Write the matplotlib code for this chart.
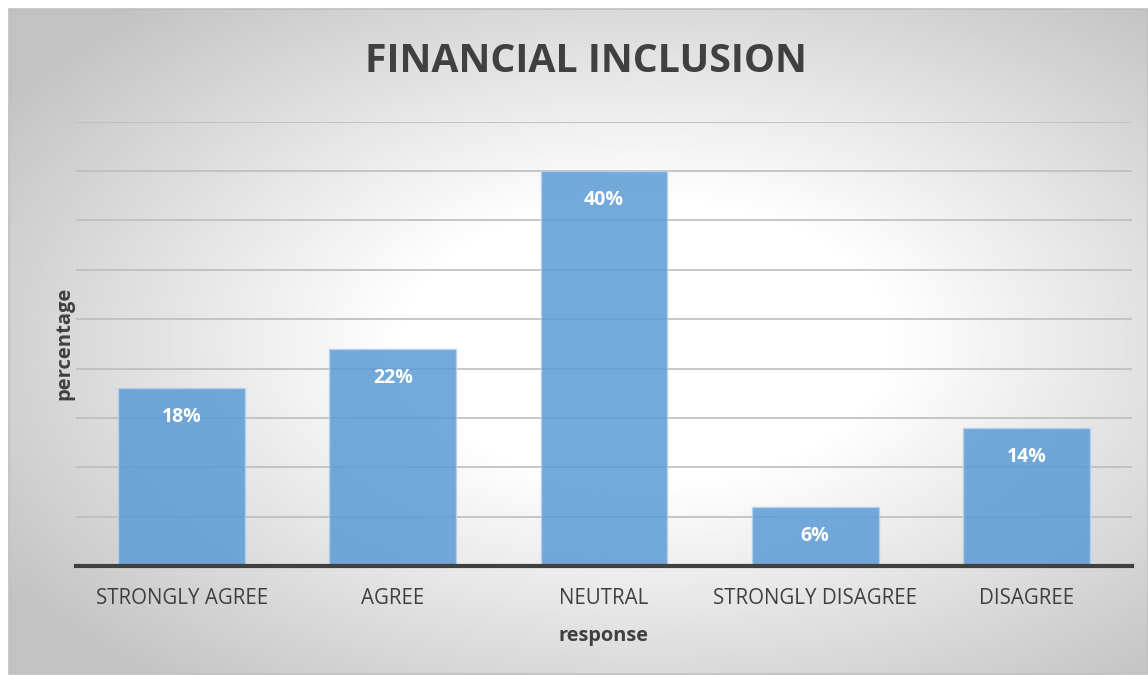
import numpy as np
import matplotlib
matplotlib.use("Agg")
import matplotlib.pyplot as plt
from matplotlib.patches import Rectangle

plt.rcParams['font.family'] = ['Open Sans', 'DejaVu Sans']

# Survey responses (share of respondents)
categories = ["STRONGLY AGREE", "AGREE", "NEUTRAL", "STRONGLY DISAGREE", "DISAGREE"]
shares = [0.18, 0.22, 0.40, 0.06, 0.14]
labels = ["18%", "22%", "40%", "6%", "14%"]

W, H = 1148, 675
fig = plt.figure(figsize=(W / 100, H / 100), dpi=100)
fig.patch.set_facecolor("white")

# Radial grey-to-white fill behind the chart
x0, y0, x1, y1 = 9, 1, 1148, 666  # chart box in pixels from the bottom-left
bg = fig.add_axes([x0 / W, y0 / H, (x1 - x0) / W, (y1 - y0) / H])
gx, gy = np.meshgrid(np.linspace(0, 1, 400), np.linspace(0, 1, 240))
r = np.sqrt(((gx - 0.56) / 0.5) ** 2 + ((gy - 0.5) / 0.5) ** 2)
t = np.clip((r - 0.42) / 0.95, 0, 1)
shade = 1 - 0.24 * t
bg.imshow(shade, cmap="gray", vmin=0, vmax=1, aspect="auto", origin="lower",
          extent=[0, 1, 0, 1], interpolation="bilinear")
bg.set_axis_off()
bg.set_zorder(0)
fig.add_artist(Rectangle((x0 / W, y0 / H), (x1 - x0) / W, (y1 - y0) / H,
                         transform=fig.transFigure, fill=False,
                         edgecolor="#BFBFBF", linewidth=1.2))

ax = fig.add_axes([76 / W, 109 / H, (1132 - 76) / W, (566 - 121.7) / H])
ax.set_zorder(1)
ax.patch.set_visible(False)

x = np.arange(len(categories))
bars = ax.bar(x, shares, width=0.6, color="#5B9BD5", alpha=0.85,
              edgecolor="#B4D2EE", linewidth=1, zorder=2)

for rect, lab in zip(bars, labels):
    ax.annotate(lab, (rect.get_x() + rect.get_width() / 2, rect.get_height()),
                xytext=(0, -29), textcoords="offset pixels",
                ha="center", va="center", color="white", fontsize=14,
                fontweight="bold", zorder=3)

ax.set_xlim(-0.5, len(categories) - 0.5)
ax.set_ylim(0, 0.45)
ax.set_yticks(np.arange(0.05, 0.451, 0.05))
ax.yaxis.grid(True, color="#BDBDBD", linewidth=1.2, zorder=1)
ax.tick_params(axis="y", length=0, labelleft=False)
ax.tick_params(axis="x", length=0, pad=16, labelsize=14.8, labelcolor="#404040")
ax.set_xticks(x)
ax.set_xticklabels(categories)
for s in ["top", "right", "left"]:
    ax.spines[s].set_visible(False)
ax.spines["bottom"].set_color("#404040")
ax.spines["bottom"].set_linewidth(3)
ax.spines["bottom"].set_zorder(4)

ax.set_xlabel("response", fontsize=14.4, fontweight="bold", color="#404040", labelpad=12)
ax.set_ylabel("percentage", fontsize=14.5, fontweight="bold", color="#404040", labelpad=1)

fig.text(586 / W, 1 - 62 / H, "FINANCIAL INCLUSION", ha="center", va="center",
         fontsize=28.3, fontweight="bold", color="#404040")

fig.savefig("out.png", dpi=100)
